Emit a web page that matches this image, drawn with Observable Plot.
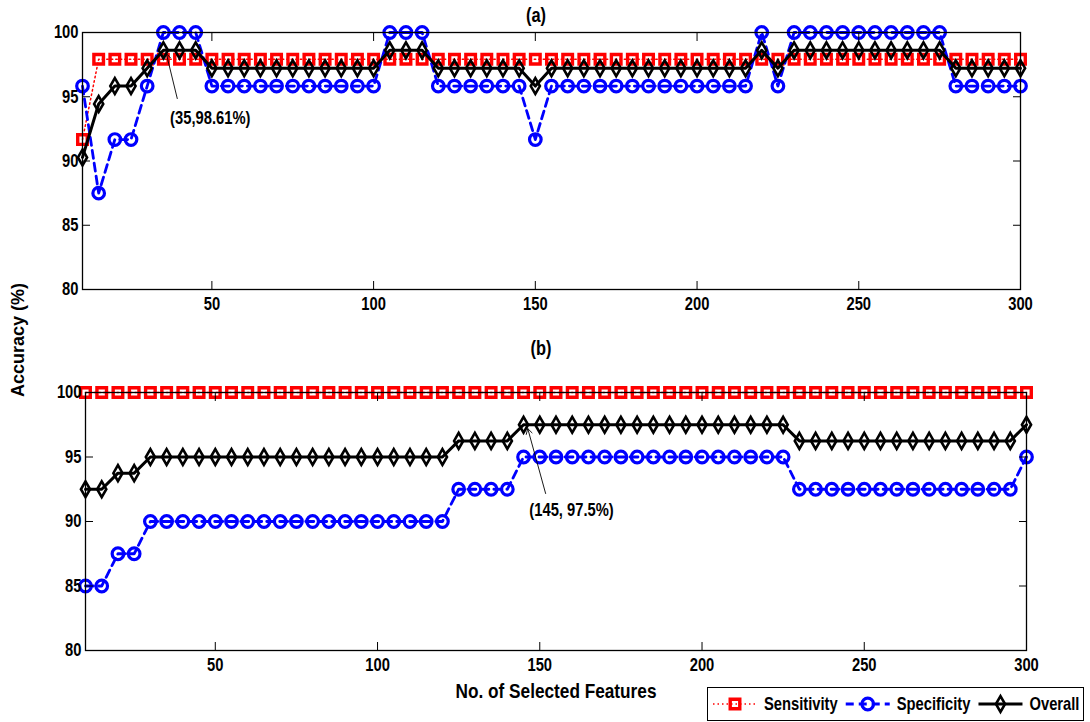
<!DOCTYPE html>
<html><head><meta charset="utf-8">
<script src="https://cdn.jsdelivr.net/npm/d3@7"></script>
<script src="https://cdn.jsdelivr.net/npm/@observablehq/plot@0.6"></script>
<style>
body{margin:0;background:#fff;}
#wrap{position:relative;width:1090px;height:722px;overflow:hidden;font-family:"Liberation Sans",Arial,sans-serif;color:#000;}
.abs{position:absolute;}
.title{font-weight:bold;font-size:20px;transform:translate(-50%,-50%) scaleX(0.82);white-space:nowrap;}
#ylab{font-weight:bold;font-size:18px;left:18px;top:340px;transform:translate(-50%,-50%) rotate(-90deg);white-space:nowrap;}
#xlab{font-weight:bold;font-size:21px;left:556px;top:691px;transform:translate(-50%,-50%) scaleX(0.82);white-space:nowrap;}
#legend{left:707px;top:687px;}
</style></head><body><div id="wrap"></div><script>
// ---- data ----
const features = [10,15,20,25,30,35,40,45,50,55,60,65,70,75,80,85,90,95,100,105,110,115,120,125,130,135,140,145,150,155,160,165,170,175,180,185,190,195,200,205,210,215,220,225,230,235,240,245,250,255,260,265,270,275,280,285,290,295,300];

const sensitivityA = [91.67,97.92,97.92,97.92,97.92,97.92,97.92,97.92,97.92,97.92,97.92,97.92,97.92,97.92,97.92,97.92,97.92,97.92,97.92,97.92,97.92,97.92,97.92,97.92,97.92,97.92,97.92,97.92,97.92,97.92,97.92,97.92,97.92,97.92,97.92,97.92,97.92,97.92,97.92,97.92,97.92,97.92,97.92,97.92,97.92,97.92,97.92,97.92,97.92,97.92,97.92,97.92,97.92,97.92,97.92,97.92,97.92,97.92,97.92];
const specificityA = [95.83,87.5,91.67,91.67,95.83,100,100,100,95.83,95.83,95.83,95.83,95.83,95.83,95.83,95.83,95.83,95.83,95.83,100,100,100,95.83,95.83,95.83,95.83,95.83,95.83,91.67,95.83,95.83,95.83,95.83,95.83,95.83,95.83,95.83,95.83,95.83,95.83,95.83,95.83,100,95.83,100,100,100,100,100,100,100,100,100,100,95.83,95.83,95.83,95.83,95.83];
const overallA = [90.28,94.44,95.83,95.83,97.22,98.61,98.61,98.61,97.22,97.22,97.22,97.22,97.22,97.22,97.22,97.22,97.22,97.22,97.22,98.61,98.61,98.61,97.22,97.22,97.22,97.22,97.22,97.22,95.83,97.22,97.22,97.22,97.22,97.22,97.22,97.22,97.22,97.22,97.22,97.22,97.22,97.22,98.61,97.22,98.61,98.61,98.61,98.61,98.61,98.61,98.61,98.61,98.61,98.61,97.22,97.22,97.22,97.22,97.22];

const sensitivityB = [100,100,100,100,100,100,100,100,100,100,100,100,100,100,100,100,100,100,100,100,100,100,100,100,100,100,100,100,100,100,100,100,100,100,100,100,100,100,100,100,100,100,100,100,100,100,100,100,100,100,100,100,100,100,100,100,100,100,100];
const specificityB = [85,85,87.5,87.5,90,90,90,90,90,90,90,90,90,90,90,90,90,90,90,90,90,90,90,92.5,92.5,92.5,92.5,95,95,95,95,95,95,95,95,95,95,95,95,95,95,95,95,95,92.5,92.5,92.5,92.5,92.5,92.5,92.5,92.5,92.5,92.5,92.5,92.5,92.5,92.5,95];
const overallB = [92.5,92.5,93.75,93.75,95,95,95,95,95,95,95,95,95,95,95,95,95,95,95,95,95,95,95,96.25,96.25,96.25,96.25,97.5,97.5,97.5,97.5,97.5,97.5,97.5,97.5,97.5,97.5,97.5,97.5,97.5,97.5,97.5,97.5,97.5,96.25,96.25,96.25,96.25,96.25,96.25,96.25,96.25,96.25,96.25,96.25,96.25,96.25,96.25,97.5];

const seriesNames = ["Sensitivity","Specificity","Overall"];
const xTicks = [50,100,150,200,250,300];
const yTicks = [80,85,90,95,100];
const panelTitles = ["(a)","(b)"];
const xLabel = "No. of Selected Features";
const yLabel = "Accuracy (%)";
const annotationA = {label:"(35,98.61%)", x1:39.3, y1:94.86, x2:35.9, y2:98.37, tx:49.5, ty:93.3};
const annotationB = {label:"(145, 97.5%)", x1:151.8, y1:92.17, x2:146.3, y2:97.2, tx:159.8, ty:90.85};

// ---- styles ----
const styles = [
  {stroke:"#ff0000", line:{strokeWidth:1.5, strokeDasharray:"1.5,3"}, symbol:"square", r:5.4, sw:3.4},
  {stroke:"#0000ff", line:{strokeWidth:2.8, strokeDasharray:"8,5"}, symbol:"circle", r:5.8, sw:3.2},
  {stroke:"#000000", line:{strokeWidth:3}, symbol:"diamond", r:4.8, sw:2.6}
];
const FONT = "'Liberation Sans',Arial,sans-serif";
const NARROW = 0.82;

function narrow(sel) {
  sel.each(function() {
    const t = this.getAttribute("transform") || "";
    this.setAttribute("transform", t + ` scale(${NARROW},1)`);
  });
}

function panel(series, ann, m) {
  const marks = [];
  series.forEach((vals, k) => {
    const rows = features.map((x, i) => ({x, y: vals[i]}));
    const s = styles[k];
    marks.push(Plot.line(rows, {x:"x", y:"y", stroke:s.stroke, ...s.line}));
    marks.push(Plot.dot(rows, {x:"x", y:"y", symbol:s.symbol, r:s.r, stroke:s.stroke, strokeWidth:s.sw, fill:"none"}));
  });
  marks.push(
    Plot.arrow([ann], {x1:"x1", y1:"y1", x2:"x2", y2:"y2", stroke:"black", strokeWidth:0.9, headLength:10}),
    Plot.text([ann], {x:"tx", y:"ty", text:"label", fontSize:18, fontWeight:"bold", fill:"black"}),
    Plot.frame({stroke:"black", strokeWidth:1.3}),
    Plot.axisX({anchor:"bottom", ticks:xTicks, tickSize:-8, tickPadding:16, fontSize:18, fontWeight:"bold", label:null}),
    Plot.axisX({anchor:"top", ticks:xTicks, tickSize:-8, tickFormat:() => "", label:null}),
    Plot.axisY({anchor:"left", ticks:yTicks, tickSize:-8, tickPadding:12, fontSize:18, fontWeight:"bold", label:null}),
    Plot.axisY({anchor:"right", ticks:yTicks, tickSize:-8, tickFormat:() => "", label:null})
  );
  const p = Plot.plot({
    width:1090, height:m.height,
    marginTop:m.top, marginBottom:m.bottom, marginLeft:m.left, marginRight:m.right,
    x:{domain:[10,300]}, y:{domain:[80,100]},
    style:{fontFamily:FONT, fontSize:"18px", background:"transparent", overflow:"visible", color:"black"},
    marks
  });
  narrow(d3.select(p).selectAll("text"));
  return p;
}

const wrap = d3.select("#wrap");
const pA = panel([sensitivityA, specificityA, overallA], annotationA, {height:330, top:32, bottom:41, left:82, right:70});
const pB = panel([sensitivityB, specificityB, overallB], annotationB, {height:392, top:62, bottom:72, left:85, right:64});
wrap.append("div").attr("class","abs").style("left","0px").style("top","0px").node().appendChild(pA);
wrap.append("div").attr("class","abs").style("left","0px").style("top","330px").node().appendChild(pB);

wrap.append("div").attr("class","abs title").style("left","536px").style("top","15px").text(panelTitles[0]);
wrap.append("div").attr("class","abs title").style("left","541px").style("top","348px").text(panelTitles[1]);
wrap.append("div").attr("class","abs").attr("id","ylab").text(yLabel);
wrap.append("div").attr("class","abs").attr("id","xlab").text(xLabel);

// ---- legend ----
const lsvg = wrap.append("svg").attr("class","abs").attr("id","legend")
  .attr("width",377).attr("height",34).style("overflow","visible");
lsvg.append("rect").attr("x",0.5).attr("y",0.5).attr("width",376).attr("height",33)
  .attr("fill","white").attr("stroke","black").attr("stroke-width",1);
let cx = 6;
seriesNames.forEach((name, k) => {
  const s = styles[k];
  lsvg.append("line").attr("x1",cx).attr("x2",cx+44).attr("y1",17).attr("y2",17)
    .attr("stroke",s.stroke).attr("stroke-width",s.line.strokeWidth)
    .attr("stroke-dasharray",s.line.strokeDasharray || null);
  const sym = {square:d3.symbolSquare, circle:d3.symbolCircle, diamond:d3.symbolDiamond}[s.symbol];
  lsvg.append("path").attr("transform",`translate(${cx+22},17)`)
    .attr("d", d3.symbol(sym, Math.PI*s.r*s.r)())
    .attr("fill","none").attr("stroke",s.stroke).attr("stroke-width",s.sw);
  const t = lsvg.append("text").attr("transform",`translate(${cx+51},17) scale(${NARROW},1)`)
    .attr("dy","0.35em").attr("font-family",FONT).attr("font-weight","bold").attr("font-size",18)
    .text(name);
  cx += 51 + t.node().getComputedTextLength()*NARROW + 8;
});
</script></body></html>
